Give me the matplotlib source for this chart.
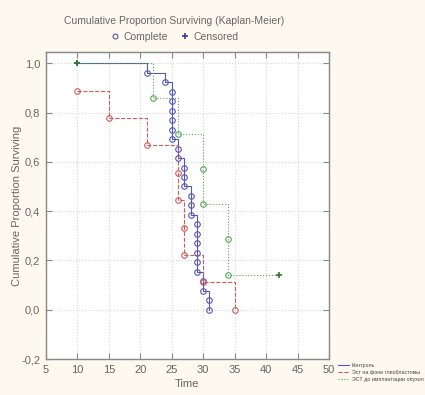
import matplotlib
matplotlib.use('Agg')
import matplotlib.pyplot as plt
from matplotlib.lines import Line2D
from matplotlib.ticker import FuncFormatter

# survival times per group, 1 = complete (death), 0 = censored
control_t = [10, 21, 24, 25, 25, 25, 25, 25, 25, 26, 26, 27, 27, 27,
             28, 28, 28, 29, 29, 29, 29, 29, 29, 30, 30, 31, 31]
control_e = [0] + [1] * 26
glio_t = [10, 15, 21, 26, 26, 27, 27, 30, 35]
glio_e = [1] * 9
impl_t = [10, 22, 26, 30, 30, 34, 34, 42]
impl_e = [0, 1, 1, 1, 1, 1, 1, 0]

names = ['Контроль', 'Эст на фоне глиобластомы', 'ЭСТ до имплантации опухол']
colors = ['#5555b5', '#d05a5a', '#55a855']
styles = ['-', '--', ':']

xticks = [5, 10, 15, 20, 25, 30, 35, 40, 45, 50]
yticks = [-0.2, 0.0, 0.2, 0.4, 0.6, 0.8, 1.0]

bg = '#fdf9ee'
txt = '#666666'
plt.rcParams['font.family'] = ['Liberation Sans', 'DejaVu Sans']


def km_points(times, events):
    n = len(times)
    s = 1.0
    xs, ys = [], []
    for i, (t, e) in enumerate(zip(times, events)):
        if e:
            s = s * (1 - 1.0 / (n - i))
        xs.append(t)
        ys.append(s)
    return xs, ys


fig = plt.figure(figsize=(4.25, 3.95), dpi=100, facecolor=bg)
ax = fig.add_axes([0.108, 0.091, 0.666, 0.777])
ax.set_facecolor('white')

groups = [(control_t, control_e), (glio_t, glio_e), (impl_t, impl_e)]
for (t, e), c, ls in zip(groups, colors, styles):
    xs, ys = km_points(t, e)
    ax.step(xs, ys, where='post', color=c, linestyle=ls, lw=0.8, zorder=3)
    dx = [x for x, ev in zip(xs, e) if ev]
    dy = [y for y, ev in zip(ys, e) if ev]
    cx = [x for x, ev in zip(xs, e) if not ev]
    cy = [y for y, ev in zip(ys, e) if not ev]
    ax.plot(dx, dy, 'o', ms=4, mfc='none', mec=c, mew=0.8, zorder=4)
    ax.plot(cx, cy, '+', ms=5, color='#2a7a2a' if c == colors[2] else c, mew=1.2, zorder=5)

ax.set_xlim(5, 50)
ax.set_ylim(-0.2, 1.045)
ax.set_xticks(xticks)
ax.set_yticks(yticks)
ax.yaxis.set_major_formatter(FuncFormatter(lambda v, p: ('%.1f' % v).replace('.', ',')))
ax.grid(True, color='#d8d8d8', linestyle=':', lw=0.8)
ax.tick_params(direction='in', top=True, right=True, length=4, labelsize=8,
               colors='#888888', labelcolor=txt, pad=4)
for sp in ax.spines.values():
    sp.set_color('#888888')
    sp.set_linewidth(1.0)

ax.set_xlabel('Time', fontsize=8, color=txt, labelpad=3)
ax.set_ylabel('Cumulative Proportion Surviving', fontsize=8, color=txt)
ax.yaxis.set_label_coords(-0.085, 0.5)

fig.text(0.41, 0.948, 'Cumulative Proportion Surviving (Kaplan-Meier)',
         ha='center', va='center', fontsize=7.5, color=txt)
top_handles = [
    Line2D([], [], marker='o', ls='none', ms=3.5, mfc='none', mec='#5555b5', mew=0.8),
    Line2D([], [], marker='+', ls='none', ms=4.5, color='#3a3a9a', mew=1.2),
]
fig.legend(top_handles, ['Complete', 'Censored'], loc='center', bbox_to_anchor=(0.41, 0.907),
           ncol=2, frameon=False, fontsize=7.5, labelcolor=txt, handletextpad=0.3,
           columnspacing=1.2, handlelength=1.0)

side_handles = [Line2D([], [], color=c, ls=ls, lw=0.8) for c, ls in zip(colors, styles)]
fig.legend(side_handles, names, loc='lower left', bbox_to_anchor=(0.79, 0.028),
           frameon=False, fontsize=3.8, labelcolor='#444444', handlelength=2.2,
           handletextpad=0.5, labelspacing=0.35, borderaxespad=0)

fig.savefig('out.png', dpi=100, facecolor=bg)
